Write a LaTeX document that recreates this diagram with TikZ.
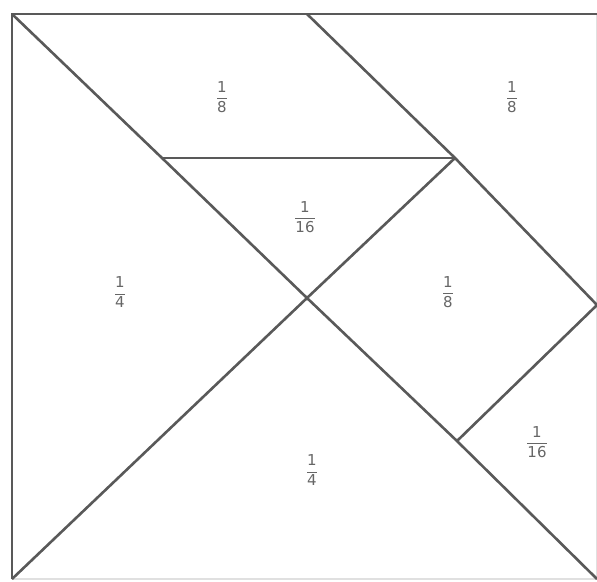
\documentclass[tikz,border=0pt]{standalone}
\usepackage{fontspec}
\setmainfont{DejaVu Sans}
\usepackage{amsmath}
\newcommand{\fr}[2]{$\dfrac{\mbox{#1}}{\mbox{#2}}$}
\begin{document}
\begin{tikzpicture}[x=1pt,y=-1pt,
  edge/.style={draw=black!65,line width=2.6pt},
  faint/.style={draw=black!12,line width=1.5pt},
  lbl/.style={text=black!60,font=\fontsize{15}{18}\selectfont,inner sep=0pt}]
\useasboundingbox (0,0) rectangle (597,581);
\coordinate (TL) at (12,14);
\coordinate (TR) at (597,14);
\coordinate (BL) at (12,579);
\coordinate (BR) at (597,579);
\coordinate (TM) at (307,14);
\coordinate (A) at (162,158);
\coordinate (B) at (455,158);
\coordinate (C) at (307,298);
\coordinate (RM) at (597,305);
\coordinate (D) at (457,441);
\draw[faint] (TR) -- (BR) -- (BL);
\draw[edge] (BL) -- (TL) -- (TR);
\draw[edge] (TL) -- (A) -- (C) -- (D) -- (BR);
\draw[edge] (BL) -- (C) -- (B);
\draw[edge] (A) -- (B);
\draw[edge] (TM) -- (B) -- (RM);
\draw[edge] (D) -- (RM);
\node[lbl] (l1) at (222,97) {\fr{1}{8}};
\node[lbl] (l2) at (512,97) {\fr{1}{8}};
\node[lbl] (l3) at (305,217) {\fr{1}{16}};
\node[lbl] (l4) at (120,292) {\fr{1}{4}};
\node[lbl] (l5) at (448,292) {\fr{1}{8}};
\node[lbl] (l6) at (537,442) {\fr{1}{16}};
\node[lbl] (l7) at (312,470) {\fr{1}{4}};
\end{tikzpicture}
\end{document}
